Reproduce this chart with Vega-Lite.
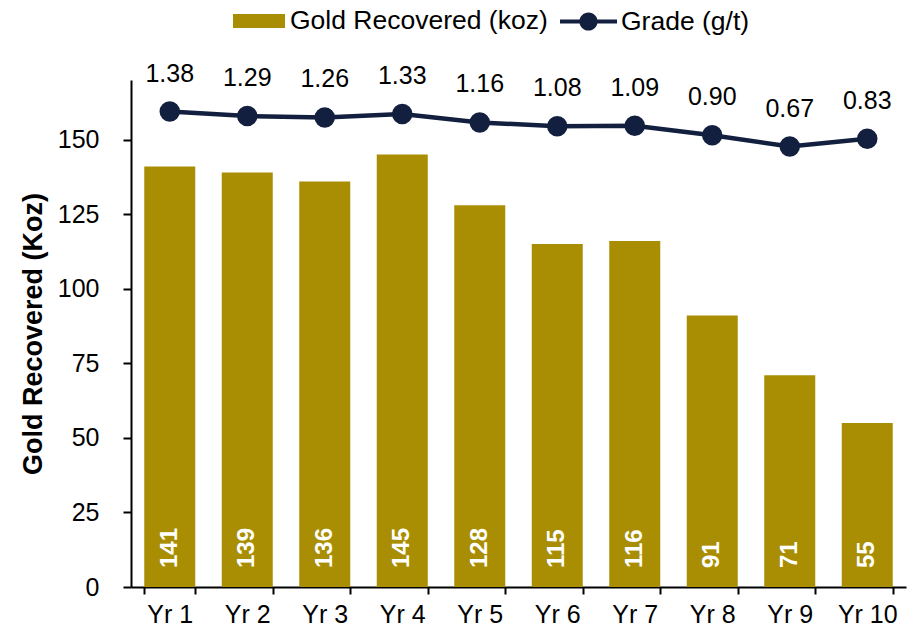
{
  "$schema": "https://vega.github.io/schema/vega-lite/v6.json",
  "width": 775,
  "height": 507,
  "autosize": "none",
  "padding": {"left": 131, "top": 80, "right": 14, "bottom": 42},
  "background": "white",
  "config": {
    "font": "Liberation Sans",
    "view": {"stroke": null},
    "axis": {"labelFont": "Liberation Sans", "titleFont": "Liberation Sans", "labelColor": "black", "titleColor": "black"},
    "legend": {"labelFont": "Liberation Sans"}
  },
  "data": {
    "values": [
      {"year": "Yr 1", "koz": 141, "grade": 1.38},
      {"year": "Yr 2", "koz": 139, "grade": 1.29},
      {"year": "Yr 3", "koz": 136, "grade": 1.26},
      {"year": "Yr 4", "koz": 145, "grade": 1.33},
      {"year": "Yr 5", "koz": 128, "grade": 1.16},
      {"year": "Yr 6", "koz": 115, "grade": 1.08},
      {"year": "Yr 7", "koz": 116, "grade": 1.09},
      {"year": "Yr 8", "koz": 91, "grade": 0.90},
      {"year": "Yr 9", "koz": 71, "grade": 0.67},
      {"year": "Yr 10", "koz": 55, "grade": 0.83}
    ]
  },
  "encoding": {
    "x": {
      "field": "year",
      "type": "ordinal",
      "sort": null,
      "scale": {"paddingInner": 0.342, "paddingOuter": 0.171},
      "axis": {
        "title": null,
        "labelAngle": 0,
        "labelFontSize": 25,
        "labelPadding": 8,
        "tickSize": 7,
        "tickWidth": 2,
        "tickColor": "black",
        "domainColor": "black",
        "domainWidth": 2,
        "tickBand": "extent"
      }
    }
  },
  "layer": [
    {
      "layer": [
        {
          "mark": {"type": "bar", "color": "#A98E03"},
          "encoding": {
            "y": {
              "field": "koz",
              "type": "quantitative",
              "scale": {"domain": [0, 170], "nice": false},
              "axis": {
                "title": "Gold Recovered (Koz)",
                "titleFontSize": 27,
                "titleFontWeight": "bold",
                "titlePadding": 10,
                "labelFontSize": 25,
                "labelPadding": 24,
                "values": [0, 25, 50, 75, 100, 125, 150],
                "grid": false,
                "tickSize": 8,
                "tickWidth": 2,
                "tickColor": "black",
                "domainColor": "black",
                "domainWidth": 2
              }
            },
            "fill": {
              "datum": "Gold Recovered (koz)",
              "scale": {"domain": ["Gold Recovered (koz)"], "range": ["#A98E03"]},
              "legend": {
                "title": null,
                "orient": "none",
                "legendX": 102,
                "legendY": -85,
                "padding": 0,
                "symbolType": "M-1,-0.27H1V0.27H-1Z",
                "symbolSize": 2704,
                "symbolStrokeWidth": 0,
                "labelFontSize": 26.5,
                "labelColor": "black",
                "labelOffset": 5,
                "labelLimit": 500
              }
            }
          }
        },
        {
          "mark": {"type": "text", "color": "white", "fontSize": 24, "fontWeight": "bold", "angle": 270, "align": "left", "baseline": "middle", "dx": 19},
          "encoding": {
            "y": {"datum": 0, "type": "quantitative"},
            "text": {"field": "koz", "type": "quantitative"}
          }
        }
      ]
    },
    {
      "layer": [
        {
          "mark": {"type": "line", "color": "#131F3F", "strokeWidth": 4.5},
          "encoding": {
            "y": {"field": "grade", "type": "quantitative", "scale": {"domain": [-8.26, 2.02], "nice": false, "zero": false}, "axis": null}
          }
        },
        {
          "mark": {"type": "point", "filled": true, "opacity": 1, "size": 420, "color": "#131F3F"},
          "encoding": {
            "y": {"field": "grade", "type": "quantitative"},
            "fill": {
              "datum": "Grade (g/t)",
              "scale": {"domain": ["Grade (g/t)"], "range": ["#131F3F"]},
              "legend": {
                "title": null,
                "orient": "none",
                "legendX": 429,
                "legendY": -87,
                "padding": 0,
                "symbolType": "M-1,-0.07H1V0.07H-1Z M-0.32,0A0.32,0.32,0,1,1,0.32,0A0.32,0.32,0,1,1,-0.32,0Z",
                "symbolSize": 3249,
                "symbolStrokeWidth": 0,
                "labelFontSize": 26.5,
                "labelColor": "black",
                "labelOffset": 4,
                "labelLimit": 500
              }
            }
          }
        },
        {
          "mark": {"type": "text", "color": "black", "fontSize": 25, "baseline": "middle", "dy": -38},
          "encoding": {
            "y": {"field": "grade", "type": "quantitative"},
            "text": {"field": "grade", "type": "quantitative", "format": ".2f"}
          }
        }
      ]
    }
  ],
  "resolve": {"scale": {"y": "independent", "fill": "independent"}, "legend": {"fill": "independent"}}
}
